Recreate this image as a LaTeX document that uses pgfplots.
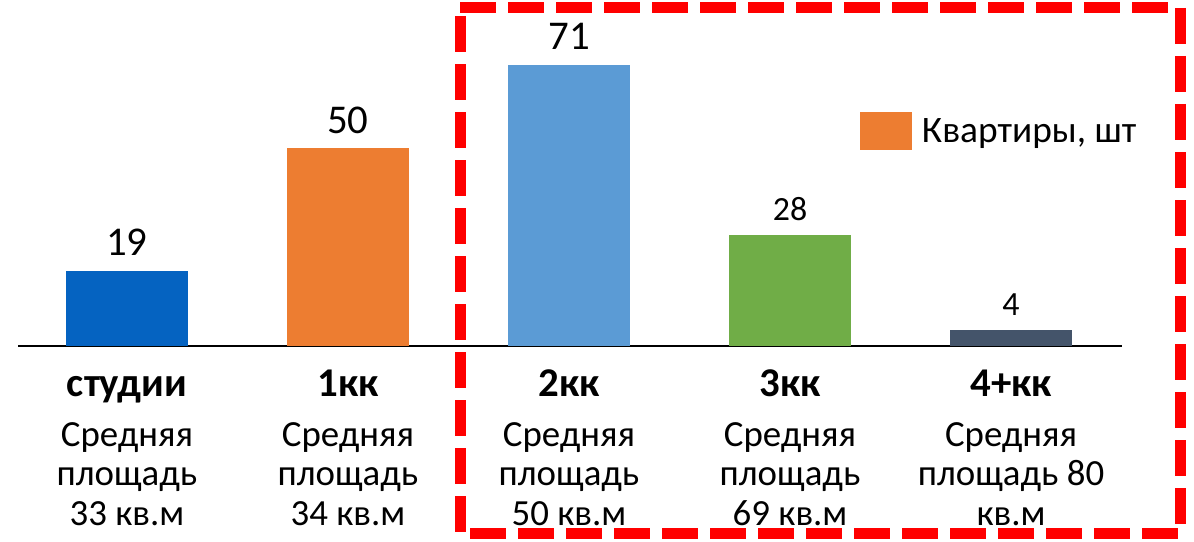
\documentclass[border=0pt]{standalone}
\usepackage{pgfplots}
\pgfplotsset{compat=1.18}
\usepackage{fontspec}
\setmainfont{Carlito}
\definecolor{cStud}{HTML}{0563C1}
\definecolor{cOne}{HTML}{ED7D31}
\definecolor{cTwo}{HTML}{5B9BD5}
\definecolor{cThree}{HTML}{70AD47}
\definecolor{cFour}{HTML}{44546A}
\newcommand{\cat}[1]{\rule{0pt}{30bp}{\bfseries\fontsize{41}{48}\selectfont #1}}
\begin{document}
\begin{tikzpicture}[x=1bp,y=1bp]
\useasboundingbox (0,0) rectangle (1194,542);
\begin{axis}[
  at={(18bp,196bp)}, anchor=south west,
  scale only axis, width=1104bp, height=346bp,
  xmin=-0.493, xmax=4.502, ymin=0, ymax=87.4,
  axis x line*=bottom, axis y line=none,
  x axis line style={-, line width=1.5bp, black},
  ytick=\empty,
  xtick={0,1,2,3,4},
  major tick length=0pt,
  xticklabels={
    {\cat{студии}\\[11bp]Средняя\\площадь\\33 кв.м},
    {\cat{1кк}\\[11bp]Средняя\\площадь\\34 кв.м},
    {\cat{2кк}\\[11bp]Средняя\\площадь\\50 кв.м},
    {\cat{3кк}\\[11bp]Средняя\\площадь\\69 кв.м},
    {\cat{4+кк}\\[11bp]Средняя\\площадь 80\\кв.м}},
  xticklabel style={align=center, font=\fontsize{37}{39.5}\selectfont, anchor=north, inner sep=0pt, yshift=-20bp},
  ybar, bar width=122bp, bar shift=0pt,
  nodes near coords,
  /pgf/number format/assume math mode=true,
  every node near coord/.append style={font=\fontsize{41}{48}\selectfont, black, anchor=base, inner sep=0pt, yshift=15bp},
  legend style={draw=none, at={(0.7625,0.621)}, anchor=west, font=\fontsize{37.5}{44}\selectfont, inner sep=0pt},
  legend image code/.code={\fill[#1] (0bp,-19bp) rectangle (52bp,19bp);},
]
\addplot[fill=cStud, draw=none, forget plot] coordinates {(0,19)};
\addplot[fill=cOne, draw=none] coordinates {(1,50)};
\addlegendentry{\hspace{8bp}Квартиры, шт}
\addplot[fill=cTwo, draw=none, forget plot] coordinates {(2,71)};
\addplot[fill=cThree, draw=none, forget plot, every node near coord/.append style={font=\fontsize{34}{40}\selectfont}] coordinates {(3,28)};
\addplot[fill=cFour, draw=none, forget plot, every node near coord/.append style={font=\fontsize{34}{40}\selectfont}] coordinates {(4,4)};
\end{axis}
\draw[red, line width=11bp, dash pattern=on 36bp off 12bp] (460,534) -- (1180,534) -- (1180,8) -- (460,8) -- cycle;
\end{tikzpicture}
\end{document}
